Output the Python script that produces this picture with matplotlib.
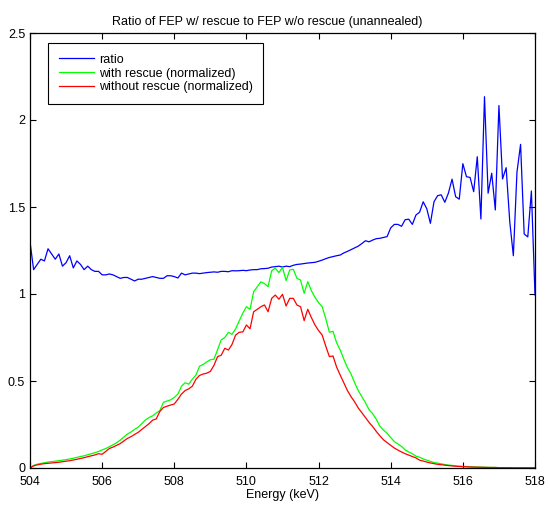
import numpy as np
import matplotlib
matplotlib.use("Agg")
import matplotlib.pyplot as plt

plt.rcParams['font.family'] = ['Liberation Sans', 'DejaVu Sans']

energy_start = 504.0
energy_step = 0.1

ratio = [
    1.30, 1.14, 1.17, 1.20, 1.19, 1.26, 1.23, 1.20, 1.23, 1.16,
    1.18, 1.22, 1.15, 1.19, 1.17, 1.14, 1.16, 1.14, 1.13, 1.13,
    1.11, 1.11, 1.115, 1.11, 1.10, 1.09, 1.095, 1.095, 1.085, 1.075,
    1.085, 1.085, 1.09, 1.095, 1.10, 1.095, 1.09, 1.09, 1.105, 1.105,
    1.10, 1.092, 1.12, 1.11, 1.115, 1.12, 1.12, 1.117, 1.12, 1.123,
    1.125, 1.127, 1.125, 1.13, 1.13, 1.128, 1.134, 1.133, 1.134, 1.136,
    1.134, 1.138, 1.14, 1.14, 1.145, 1.146, 1.148, 1.155, 1.157, 1.16,
    1.155, 1.16, 1.157, 1.165, 1.17, 1.172, 1.175, 1.178, 1.18, 1.182,
    1.188, 1.195, 1.203, 1.21, 1.215, 1.22, 1.224, 1.236, 1.245, 1.255,
    1.265, 1.275, 1.29, 1.306, 1.30, 1.31, 1.318, 1.32, 1.325, 1.33,
    1.38, 1.40, 1.40, 1.389, 1.427, 1.43, 1.40, 1.454, 1.47, 1.53,
    1.49, 1.406, 1.53, 1.565, 1.57, 1.527, 1.58, 1.66, 1.559, 1.545,
    1.749, 1.674, 1.67, 1.588, 1.789, 1.431, 2.134, 1.579, 1.694, 1.483,
    2.083, 1.661, 1.726, 1.416, 1.22, 1.70, 1.86, 1.345, 1.328, 1.592,
    0.994,
]

with_rescue = [
    0.0, 0.015, 0.022, 0.026, 0.030, 0.034, 0.037, 0.039, 0.042, 0.045,
    0.048, 0.052, 0.056, 0.061, 0.066, 0.070, 0.076, 0.082, 0.088, 0.095,
    0.104, 0.112, 0.122, 0.133, 0.145, 0.160, 0.178, 0.195, 0.207, 0.222,
    0.235, 0.255, 0.276, 0.290, 0.300, 0.316, 0.330, 0.378, 0.385, 0.392,
    0.405, 0.425, 0.470, 0.490, 0.482, 0.510, 0.534, 0.585, 0.595, 0.610,
    0.622, 0.625, 0.680, 0.736, 0.750, 0.780, 0.768, 0.800, 0.845, 0.890,
    0.927, 0.912, 1.013, 1.042, 1.070, 1.060, 1.042, 1.134, 1.148, 1.123,
    1.153, 1.077, 1.138, 1.142, 1.090, 1.080, 1.004, 1.071, 1.020, 0.981,
    0.950, 0.927, 0.858, 0.780, 0.786, 0.720, 0.678, 0.625, 0.577, 0.540,
    0.490, 0.445, 0.410, 0.375, 0.335, 0.312, 0.280, 0.240, 0.218, 0.199,
    0.175, 0.152, 0.138, 0.124, 0.104, 0.092, 0.082, 0.068, 0.062, 0.052,
    0.045, 0.038, 0.031, 0.028, 0.024, 0.020, 0.017, 0.015, 0.012, 0.010,
    0.009, 0.008, 0.007, 0.006, 0.005, 0.005, 0.004, 0.004, 0.003, 0.003,
    0.002, 0.002, 0.002, 0.001, 0.001, 0.001, 0.001, 0.001, 0.001, 0.001,
    0.001,
]

without_rescue = [
    0.0, 0.012, 0.018, 0.022, 0.025, 0.027, 0.029, 0.031, 0.033, 0.036,
    0.039, 0.042, 0.046, 0.050, 0.055, 0.059, 0.065, 0.070, 0.075, 0.082,
    0.079, 0.095, 0.112, 0.120, 0.130, 0.140, 0.155, 0.170, 0.180, 0.193,
    0.205, 0.222, 0.238, 0.255, 0.275, 0.282, 0.325, 0.348, 0.355, 0.362,
    0.368, 0.395, 0.425, 0.445, 0.455, 0.470, 0.510, 0.532, 0.540, 0.545,
    0.555, 0.590, 0.640, 0.648, 0.688, 0.678, 0.710, 0.764, 0.780, 0.782,
    0.822, 0.800, 0.898, 0.912, 0.927, 0.937, 0.898, 0.975, 0.994, 0.970,
    0.998, 0.931, 0.975, 0.975, 0.937, 0.927, 0.847, 0.912, 0.865, 0.822,
    0.790, 0.764, 0.700, 0.640, 0.644, 0.580, 0.534, 0.490, 0.445, 0.410,
    0.380, 0.345, 0.318, 0.290, 0.262, 0.238, 0.210, 0.185, 0.162, 0.146,
    0.130, 0.115, 0.103, 0.092, 0.082, 0.074, 0.066, 0.058, 0.045, 0.040,
    0.034, 0.029, 0.025, 0.021, 0.019, 0.016, 0.014, 0.012, 0.010, 0.009,
    0.008, 0.007, 0.006, 0.005, 0.005, 0.004, 0.004, 0.003, 0.003, 0.003,
    0.002, 0.002, 0.002, 0.002, 0.001, 0.001, 0.001, 0.001, 0.001, 0.001,
    0.001,
]

x_ticks = [504, 506, 508, 510, 512, 514, 516, 518]
y_ticks = [0, 0.5, 1, 1.5, 2, 2.5]
y_tick_labels = ["0", "0.5", "1", "1.5", "2", "2.5"]

energy = energy_start + energy_step * np.arange(len(ratio))

fig = plt.figure(figsize=(5.5, 5.05), dpi=100)
ax = fig.add_axes([30/550, 37/505, 505/550, 435/505])

ax.plot(energy, ratio, color=(0, 0, 1), lw=0.9, label="ratio")
ax.plot(energy, with_rescue, color=(0, 1, 0), lw=0.9, label="with rescue (normalized)")
ax.plot(energy, without_rescue, color=(1, 0, 0), lw=0.9, label="without rescue (normalized)")

ax.set_xlim(504, 518)
ax.set_ylim(0, 2.5)
ax.set_xticks(x_ticks)
ax.set_xticklabels([str(t) for t in x_ticks])
ax.set_yticks(y_ticks)
ax.set_yticklabels(y_tick_labels)
ax.tick_params(direction='in', top=True, right=True, length=4, width=0.8,
               labelsize=9)
ax.tick_params(axis='x', pad=5.5)
ax.tick_params(axis='y', pad=3.5)
for s in ax.spines.values():
    s.set_linewidth(0.9)

ax.set_xlabel("Energy (keV)", fontsize=9, labelpad=1)
ax.set_title("Ratio of FEP w/ rescue to FEP w/o rescue (unannealed)", fontsize=9,
             pad=6, x=(267 - 30) / 505)

leg = ax.legend(loc='upper left', bbox_to_anchor=(18/505, 1 - 10/435),
                fontsize=9, frameon=True, fancybox=False, edgecolor='black',
                framealpha=1, borderpad=0.85, labelspacing=0.15,
                handlelength=2.8, handletextpad=0.4, borderaxespad=0)
leg.get_frame().set_linewidth(0.8)

fig.savefig("out.png", dpi=100)
